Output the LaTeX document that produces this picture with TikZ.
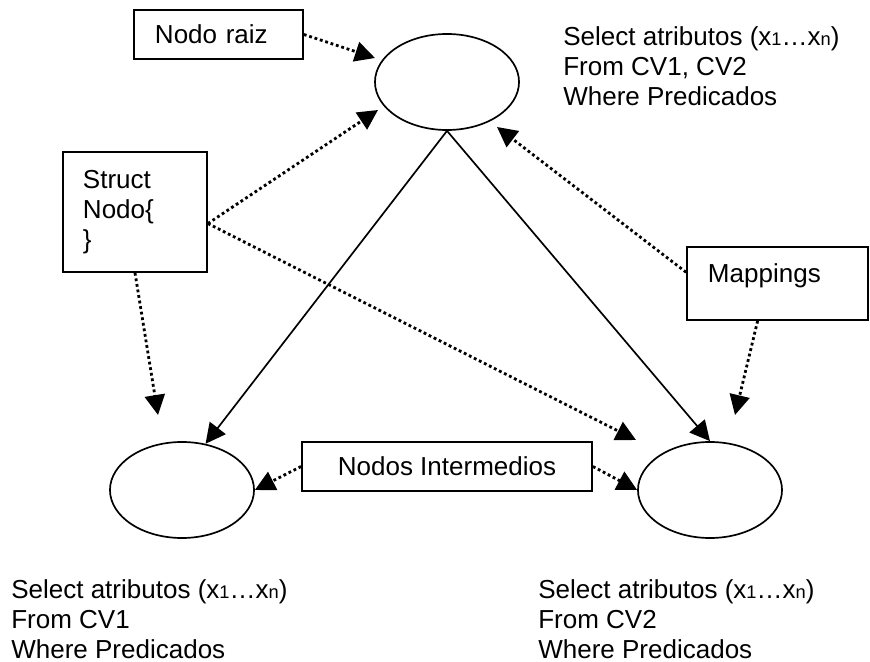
\documentclass[tikz,border=0pt]{standalone}
\usepackage{fontspec}
\setmainfont{Liberation Sans}
\usetikzlibrary{arrows.meta,shapes.geometric}
\newcommand{\chico}[1]{{\fontsize{13}{13}\selectfont #1}}
\begin{document}
\begin{tikzpicture}[x=0.025cm,y=-0.025cm,>={Triangle[length=0.5cm,width=0.5cm]},
    font=\fontsize{18.5}{21.3}\selectfont,
    nodo/.style={draw,ellipse,line width=1.2pt,minimum width=3.6cm,minimum height=2.4cm},
    caja/.style={draw,rectangle,line width=1.2pt,inner sep=0pt},
    punteado/.style={->,line width=2pt,dash pattern=on 2pt off 2pt},
    texto/.style={anchor=north west,inner sep=0pt,align=left}]
\useasboundingbox (0,0) rectangle (870,662);
% nodos del arbol
\node[nodo] (top) at (447,82) {};
\node[nodo] (izq) at (182,490) {};
\node[nodo] (der) at (710,490) {};
% cajas
\node[caja,inner xsep=0.525cm,text width=3.175cm,minimum height=1.225cm,align=left] (raiz) at (218.5,34.5) {Nodo raiz};
\node[caja,inner xsep=0.5cm,text width=2.6cm,minimum height=3cm,align=left] (struct) at (135,212) {Struct\\Nodo\{\\\}};
\node[caja,inner xsep=0.525cm,text width=3.475cm,text height=0.9cm,text depth=0.925cm,align=left] (map) at (777.5,283.5) {Mappings};
\node[caja,minimum width=7.25cm,minimum height=1.225cm] (inter) at (447,466.5) {Nodos Intermedios};
% consultas
\node[texto] (consTop) at (563,26) {Select atributos (x\chico{1}…x\chico{n})\\From CV1, CV2\\Where Predicados};
\node[texto] (consIzq) at (11,579) {Select atributos (x\chico{1}…x\chico{n})\\From CV1\\Where Predicados};
\node[texto] (consDer) at (538,579) {Select atributos (x\chico{1}…x\chico{n})\\From CV2\\Where Predicados};
% puntas libres
\coordinate (pRaiz) at (375,58);
\coordinate (pStructTop) at (378,110);
\coordinate (pStructDer) at (636,440);
\coordinate (pStructIzq) at (158,415);
\coordinate (pMapTop) at (497,127);
\coordinate (pMapDer) at (735,415);
% aristas
\draw[->,line width=1.2pt] (top.south)--(izq.63);
\draw[->,line width=1.2pt] (top.south)--(der.north);
% flechas punteadas
\draw[punteado] (raiz.east)--(pRaiz);
\draw[punteado] (struct.-9)--(pStructTop);
\draw[punteado] (struct.-9)--(pStructDer);
\draw[punteado] (struct.south)--(pStructIzq);
\draw[punteado] (map.173)--(pMapTop);
\draw[punteado] (map.-118)--(pMapDer);
\draw[punteado] (inter.west)--(izq.east);
\draw[punteado] (inter.east)--(der.west);
\end{tikzpicture}
\end{document}
